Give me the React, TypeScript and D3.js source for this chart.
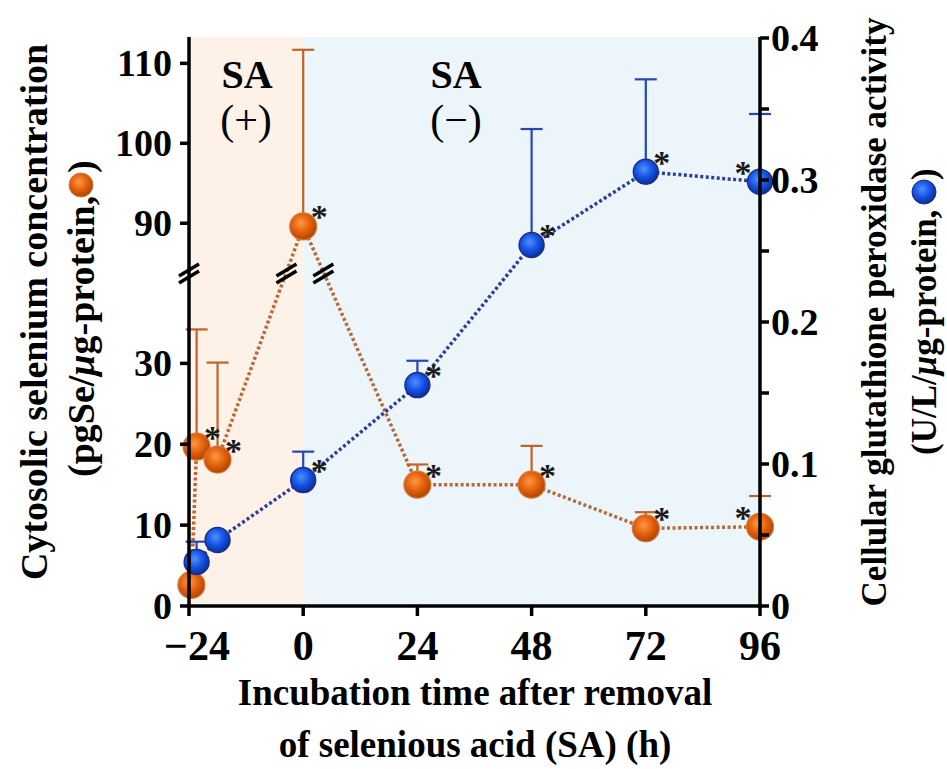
import React from 'react';
import * as d3 from 'd3';

// ---- data ----
const xTicks = [-24, 0, 24, 48, 72, 96];
const leftTicks = [0, 10, 20, 30, 90, 100, 110];
const rightTicks = [0, 0.1, 0.2, 0.3, 0.4];
const rightMinor = [0.05, 0.15, 0.25, 0.35];

const seTimes = [-23.5, -22.4, -18, 0, 24, 48, 72, 96];
const seMean = [2.6, 19.7, 18.1, 89.6, 15.0, 15.0, 9.6, 9.8];
const seUpper = [null, 34.2, 30.1, 111.7, 17.5, 19.8, 11.6, 13.6];
const seStar = [false, true, true, true, true, true, true, true];

const gpxTimes = [-22.4, -18, 0, 24, 48, 72, 96];
const gpxMean = [0.031, 0.0465, 0.0887, 0.1556, 0.2542, 0.3058, 0.2988];
const gpxUpper = [0.0453, null, 0.1087, 0.1727, 0.3359, 0.3709, 0.3465];
const gpxStar = [false, false, true, true, true, true, true];

const FONT = "'Liberation Serif', 'Times New Roman', serif";
const W = 947, H = 769;

export default function App() {
  const x = d3.scaleLinear().domain([-24, 96]).range([189, 760]);
  const yL = d3.scaleLinear().domain([0, 41.3, 83.9, 113.3]).range([606, 272, 272, 37]);
  const yR = d3.scaleLinear().domain([0, 0.4]).range([606, 38]);
  const yBreak = 272;
  const top = 37, bottom = 606, left = x(-24), right = x(96);

  const seData = seTimes.map((t, i) => ({ t, v: seMean[i], u: seUpper[i], s: seStar[i] }));
  const gpxData = gpxTimes.map((t, i) => ({ t, v: gpxMean[i], u: gpxUpper[i], s: gpxStar[i] }));

  const seLine = d3.line<any>().x(d => x(d.t)).y(d => yL(d.v));
  const gpxLine = d3.line<any>().x(d => x(d.t)).y(d => yR(d.v));

  // break marks where orange line crosses the break level
  const breaks: { x: number; y: number }[] = [{ x: left, y: yBreak }];
  for (let i = 0; i < seData.length - 1; i++) {
    const a = seData[i], b = seData[i + 1];
    const ya = yL(a.v), yb = yL(b.v);
    if ((ya - yBreak) * (yb - yBreak) < 0 && (a.v > 60 || b.v > 60)) {
      const f = (ya - yBreak) / (ya - yb);
      breaks.push({ x: x(a.t) + f * (x(b.t) - x(a.t)), y: yBreak });
    }
  }

  const orangeLine = '#b8693a';
  const blueLine = '#2b3f9c';
  const orangeErr = '#c0622a';
  const blueErr = '#2747b8';

  const star = (cx: number, cy: number, leftSide: boolean, key: string) => (
    <text key={key} x={cx + (leftSide ? -17 : 16)} y={cy - 15 + 17} fontSize={34} fontWeight="bold"
      textAnchor="middle" fill="#1a1a1a" fontFamily={FONT}>*</text>
  );

  return (
    <svg width={W} height={H} style={{ position: 'absolute', left: 0, top: 0 }} fontFamily={FONT}>
      <defs>
        <radialGradient id="gOr" cx="42%" cy="38%" r="62%">
          <stop offset="0%" stopColor="#ff9a40" />
          <stop offset="55%" stopColor="#e3600c" />
          <stop offset="100%" stopColor="#b04400" />
        </radialGradient>
        <radialGradient id="gBl" cx="42%" cy="38%" r="62%">
          <stop offset="0%" stopColor="#4f90ff" />
          <stop offset="55%" stopColor="#1552e4" />
          <stop offset="100%" stopColor="#0b2e9c" />
        </radialGradient>
      </defs>
      <rect width={W} height={H} fill="#ffffff" />
      {/* shaded regions */}
      <rect x={left} y={top} width={x(0) - left} height={bottom - top} fill="#fdf1e8" />
      <rect x={x(0)} y={top} width={right - x(0)} height={bottom - top} fill="#ecf5f9" />

      {/* SA labels */}
      <text x={247} y={88} fontSize={40} fontWeight="bold" textAnchor="middle">SA</text>
      <text x={246} y={134} fontSize={42} textAnchor="middle">(+)</text>
      <text x={456} y={88} fontSize={40} fontWeight="bold" textAnchor="middle">SA</text>
      <text x={456} y={134} fontSize={42} textAnchor="middle">(−)</text>

      {/* lines */}
      <path d={seLine(seData) || ''} fill="none" stroke={orangeLine} strokeWidth={3.5} strokeDasharray="3 2.5" />
      <path d={gpxLine(gpxData) || ''} fill="none" stroke={blueLine} strokeWidth={3.5} strokeDasharray="3 2.5" />

      {/* error bars */}
      {seData.filter(d => d.u != null).map((d, i) => (
        <g key={'se' + i} stroke={orangeErr} strokeWidth={2.2}>
          <line x1={x(d.t)} x2={x(d.t)} y1={yL(d.v)} y2={yL(d.u as number)} />
          <line x1={x(d.t) - 11} x2={x(d.t) + 11} y1={yL(d.u as number)} y2={yL(d.u as number)} />
        </g>
      ))}
      {gpxData.filter(d => d.u != null).map((d, i) => (
        <g key={'gp' + i} stroke={blueErr} strokeWidth={2.2}>
          <line x1={x(d.t)} x2={x(d.t)} y1={yR(d.v)} y2={yR(d.u as number)} />
          <line x1={x(d.t) - 11} x2={x(d.t) + 11} y1={yR(d.u as number)} y2={yR(d.u as number)} />
        </g>
      ))}

      {/* markers */}
      {seData.map((d, i) => (
        <circle key={'sc' + i} cx={x(d.t)} cy={yL(d.v)} r={13.5} fill="url(#gOr)" stroke="#d27a3c" strokeWidth={1.2} />
      ))}
      {gpxData.map((d, i) => (
        <circle key={'gc' + i} cx={x(d.t)} cy={yR(d.v)} r={12.5} fill="url(#gBl)" stroke="#1a2f8a" strokeWidth={1.4} />
      ))}

      {/* asterisks */}
      {seData.filter(d => d.s).map((d, i) => star(x(d.t), yL(d.v), d.t === 96, 'ss' + i))}
      {gpxData.filter(d => d.s).map((d, i) => star(x(d.t), yR(d.v), d.t === 96, 'gs' + i))}

      {/* axes */}
      <g stroke="#000" strokeWidth={3.5} fill="none">
        <line x1={left} x2={left} y1={top} y2={bottom + 1.5} />
        <line x1={right} x2={right} y1={top} y2={bottom + 1.5} />
        <line x1={left - 1.5} x2={right + 1.5} y1={bottom} y2={bottom} />
      </g>
      {/* left ticks */}
      {leftTicks.map(v => (
        <g key={'lt' + v}>
          <line x1={left - 9} x2={left} y1={yL(v)} y2={yL(v)} stroke="#000" strokeWidth={3.5} />
          <text x={left - 17} y={yL(v) + 13} fontSize={38} fontWeight="bold" textAnchor="end">{v}</text>
        </g>
      ))}
      {/* right ticks */}
      {rightTicks.map(v => (
        <g key={'rt' + v}>
          <line x1={right} x2={right + 9} y1={yR(v)} y2={yR(v)} stroke="#000" strokeWidth={3.5} />
          <text x={right + 11} y={yR(v) + 13} fontSize={38} fontWeight="bold" textAnchor="start">{v === 0 ? '0' : v.toFixed(1)}</text>
        </g>
      ))}
      {rightMinor.map(v => (
        <line key={'rm' + v} x1={right} x2={right + 9} y1={yR(v)} y2={yR(v)} stroke="#000" strokeWidth={3.5} />
      ))}
      {/* x ticks */}
      {xTicks.map(t => (
        <g key={'xt' + t}>
          <line x1={x(t)} x2={x(t)} y1={bottom} y2={bottom + 10} stroke="#000" strokeWidth={3.5} />
          <text x={x(t) + (t < 0 ? 8 : 0)} y={bottom + 54} fontSize={42} fontWeight="bold" textAnchor="middle">
            {t < 0 ? '−' + Math.abs(t) : t}
          </text>
        </g>
      ))}

      {/* break marks */}
      {breaks.map((b, i) => (
        <g key={'br' + i} stroke="#000" strokeWidth={3.5} strokeLinecap="butt">
          <line x1={b.x - 10} y1={b.y - 2 + 6} x2={b.x + 10} y2={b.y - 2 - 6} />
          <line x1={b.x - 10} y1={b.y + 5 + 6} x2={b.x + 10} y2={b.y + 5 - 6} />
        </g>
      ))}

      {/* x title */}
      <text x={475} y={705} fontSize={37} fontWeight="bold" textAnchor="middle">Incubation time after removal</text>
      <text x={475} y={757} fontSize={37} fontWeight="bold" textAnchor="middle">of selenious acid (SA) (h)</text>

      {/* left y title */}
      <g transform="translate(47,312) rotate(-90)">
        <text x={0} y={0} fontSize={38} fontWeight="bold" textAnchor="middle">Cytosolic selenium concentration</text>
      </g>
      <g transform="translate(94,477) rotate(-90)">
        <text x={0} y={0} fontSize={38} fontWeight="bold" textAnchor="start">(pgSe/<tspan fontStyle="italic">μ</tspan>g-protein,</text>
      </g>
      <circle cx={81} cy={185} r={12} fill="url(#gOr)" stroke="#d27a3c" strokeWidth={1} />
      <g transform="translate(94,173) rotate(-90)">
        <text x={0} y={0} fontSize={38} fontWeight="bold" textAnchor="start">)</text>
      </g>

      {/* right y title */}
      <g transform="translate(886,312) rotate(-90)">
        <text x={0} y={0} fontSize={35} fontWeight="bold" textAnchor="middle">Cellular glutathione peroxidase activity</text>
      </g>
      <g transform="translate(936,455) rotate(-90)">
        <text x={0} y={0} fontSize={35} fontWeight="bold" textAnchor="start">(U/L/<tspan fontStyle="italic">μ</tspan>g-protein,</text>
      </g>
      <circle cx={924} cy={192} r={12} fill="url(#gBl)" stroke="#1a2f8a" strokeWidth={1} />
      <g transform="translate(936,180) rotate(-90)">
        <text x={0} y={0} fontSize={35} fontWeight="bold" textAnchor="start">)</text>
      </g>
    </svg>
  );
}
